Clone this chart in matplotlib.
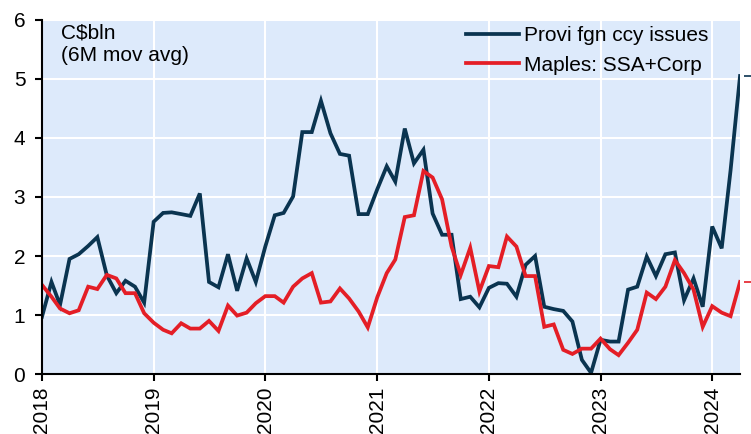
import matplotlib
matplotlib.use("Agg")
import matplotlib.pyplot as plt
import matplotlib.dates as mdates
import matplotlib.transforms as mtransforms
import pandas as pd

plt.rcParams['font.family'] = ['Liberation Sans', 'DejaVu Sans']

dates = pd.date_range('2018-01-01', periods=76, freq='MS')

provi = [0.97, 1.56, 1.17, 1.95, 2.03, 2.17, 2.32, 1.67, 1.37, 1.58, 1.48, 1.21,
         2.58, 2.73, 2.74, 2.71, 2.68, 3.06, 1.56, 1.47, 2.03, 1.41, 1.96, 1.56,
         2.16, 2.69, 2.73, 3.01, 4.10, 4.10, 4.63, 4.08, 3.73, 3.70, 2.71, 2.71,
         3.13, 3.52, 3.26, 4.16, 3.57, 3.80, 2.72, 2.36, 2.36, 1.27, 1.31, 1.13,
         1.46, 1.54, 1.53, 1.31, 1.85, 2.00, 1.14, 1.10, 1.07, 0.89, 0.24, 0.02,
         0.58, 0.55, 0.55, 1.43, 1.48, 1.99, 1.66, 2.03, 2.06, 1.25, 1.62, 1.14,
         2.50, 2.13, 3.45, 5.05]

maples = [1.51, 1.31, 1.11, 1.03, 1.08, 1.48, 1.44, 1.68, 1.62, 1.37, 1.37, 1.03,
          0.87, 0.75, 0.69, 0.86, 0.77, 0.77, 0.90, 0.73, 1.16, 0.99, 1.04, 1.20,
          1.32, 1.32, 1.21, 1.48, 1.62, 1.71, 1.21, 1.23, 1.45, 1.28, 1.06, 0.79,
          1.30, 1.71, 1.94, 2.66, 2.69, 3.44, 3.33, 2.96, 2.16, 1.68, 2.14, 1.40,
          1.83, 1.81, 2.33, 2.16, 1.66, 1.66, 0.80, 0.84, 0.41, 0.34, 0.43, 0.43,
          0.60, 0.42, 0.32, 0.53, 0.75, 1.38, 1.27, 1.48, 1.93, 1.71, 1.43, 0.80,
          1.15, 1.04, 0.98, 1.56]

series_labels = ['Provi fgn ccy issues', 'Maples: SSA+Corp']
navy = '#0A3450'
red = '#E41E26'
bg = '#DDEAFB'
fs = 15

fig = plt.figure(figsize=(7.51, 4.34), dpi=100)
ax = fig.add_axes([0.0559, 0.1382, 0.9295, 0.8158])
ax.set_facecolor(bg)

ax.plot(dates, provi, color=navy, lw=2.7, label=series_labels[0], solid_joinstyle='miter')
ax.plot(dates, maples, color=red, lw=2.7, label=series_labels[1], solid_joinstyle='miter')

ax.set_ylim(0, 6)
ax.set_yticks(range(0, 7))
ax.set_xlim(dates[0], dates[-1])
ax.xaxis.set_major_locator(mdates.YearLocator())
ax.xaxis.set_major_formatter(mdates.DateFormatter('%Y'))

ax.grid(True, color='white', lw=1.5)
ax.set_axisbelow(True)
for s in ['top', 'right']:
    ax.spines[s].set_visible(False)
for s in ['left', 'bottom']:
    ax.spines[s].set_linewidth(1.5)
    ax.spines[s].set_color('black')
ax.tick_params(axis='y', labelsize=fs, width=1.5, length=5, direction='out', pad=7)
ax.tick_params(axis='x', labelsize=fs, width=1.5, length=5, direction='out', pad=4)
for lab in ax.get_xticklabels():
    lab.set_rotation(90)

# small last-value marks on the right
trans = mtransforms.blended_transform_factory(ax.transAxes, ax.transData)
ax.plot([1.012], [provi[-1]], marker='_', ms=6, mew=1.2, color=navy, transform=trans, clip_on=False)
ax.plot([1.012], [maples[-1]], marker='_', ms=6, mew=1.2, color=red, transform=trans, clip_on=False)

ax.text(0.027, 0.99, 'C$bln\n(6M mov avg)', transform=ax.transAxes, fontsize=fs,
        va='top', ha='left', linespacing=1.2)

leg = ax.legend(loc='upper right', bbox_to_anchor=(0.982, 1.035), frameon=False, fontsize=fs,
                handlelength=2.55, handletextpad=0.25, labelspacing=0.5)

fig.savefig('out.png', dpi=100)
